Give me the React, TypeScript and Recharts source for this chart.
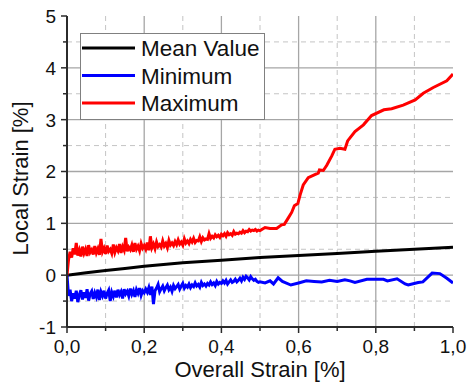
import React from 'react';
import { LineChart, Line, XAxis, YAxis, ReferenceLine, Legend } from 'recharts';

const FONT = '"Liberation Sans", Arial, Helvetica, sans-serif';

const xTicks = [0, 0.1, 0.2, 0.3, 0.4, 0.5, 0.6, 0.7, 0.8, 0.9, 1.0];
const yTicks = [-1, -0.5, 0, 0.5, 1, 1.5, 2, 2.5, 3, 3.5, 4, 4.5, 5];
const xMajorGrid = [0.2, 0.4, 0.6, 0.8];
const xMinorGrid = [0.1, 0.3, 0.5, 0.7, 0.9];
const yMajorGrid = [0, 1, 2, 3, 4];
const yMinorGrid = [-0.5, 0.5, 1.5, 2.5, 3.5, 4.5];

const seriesNames = ['Mean Value', 'Minimum', 'Maximum'];
const seriesColors = ['#000000', '#0000ff', '#ff0000'];

const xTitle = 'Overall Strain [%]';
const yTitle = 'Local Strain [%]';

// Mean value
const meanX = [0, 0.05, 0.1, 0.15, 0.2, 0.3, 0.4, 0.5, 0.6, 0.7, 0.8, 0.9, 1.0];
const meanY = [0, 0.045, 0.09, 0.13, 0.17, 0.24, 0.29, 0.34, 0.38, 0.42, 0.46, 0.5, 0.54];

// Dense sampled part (sample spacing in overall strain)
const denseStep = 0.004;

const maxDense = [
  0.30, 0.45, 0.34, 0.52, 0.40, 0.62, 0.38, 0.48, 0.36, 0.55,
  0.42, 0.50, 0.37, 0.58, 0.44, 0.49, 0.40, 0.56, 0.43, 0.51,
  0.39, 0.70, 0.45, 0.52, 0.41, 0.57, 0.46, 0.50, 0.42, 0.59,
  0.44, 0.53, 0.47, 0.60, 0.43, 0.55, 0.48, 0.72, 0.46, 0.54,
  0.49, 0.58, 0.45, 0.62, 0.50, 0.56, 0.47, 0.61, 0.52, 0.57,
  0.50, 0.63, 0.48, 0.75, 0.53, 0.60, 0.51, 0.64, 0.55, 0.59,
  0.54, 0.66, 0.56, 0.61, 0.53, 0.67, 0.58, 0.62, 0.57, 0.65,
  0.59, 0.68, 0.60, 0.64, 0.58, 0.70, 0.62, 0.66, 0.61, 0.69,
  0.64, 0.71, 0.63, 0.67, 0.66, 0.74, 0.65, 0.72, 0.68, 0.70,
  0.69, 0.80, 0.71, 0.75, 0.72, 0.78, 0.74, 0.77, 0.73, 0.79,
  0.76, 0.80, 0.75, 0.82, 0.78, 0.80, 0.77, 0.84, 0.79, 0.81,
  0.80, 0.83, 0.81, 0.86, 0.82, 0.85, 0.84, 0.88, 0.85, 0.87,
  0.86, 0.88, 0.85, 0.87, 0.86,
];
const maxTailX = [0.513, 0.526, 0.543, 0.556, 0.563, 0.573, 0.582, 0.589, 0.598, 0.604, 0.612, 0.625, 0.642, 0.651, 0.654, 0.664, 0.673, 0.686, 0.694, 0.707, 0.72, 0.727, 0.746, 0.768, 0.789, 0.821, 0.841, 0.871, 0.902, 0.923, 0.949, 0.984, 1.0];
const maxTailY = [0.92, 0.90, 0.90, 0.97, 0.98, 1.10, 1.21, 1.34, 1.38, 1.55, 1.74, 1.88, 1.94, 1.97, 2.03, 2.02, 2.12, 2.30, 2.43, 2.45, 2.43, 2.59, 2.77, 2.90, 3.08, 3.19, 3.21, 3.28, 3.38, 3.51, 3.62, 3.75, 3.88];

const minDense = [
  -0.40, -0.28, -0.50, -0.35, -0.45, -0.30, -0.52, -0.38, -0.29, -0.47,
  -0.33, -0.44, -0.27, -0.49, -0.36, -0.31, -0.46, -0.34, -0.42, -0.28,
  -0.48, -0.32, -0.40, -0.30, -0.45, -0.35, -0.29, -0.50, -0.33, -0.41,
  -0.30, -0.43, -0.28, -0.38, -0.32, -0.45, -0.27, -0.36, -0.31, -0.40,
  -0.26, -0.37, -0.30, -0.42, -0.28, -0.35, -0.25, -0.39, -0.30, -0.34,
  -0.27, -0.33, -0.24, -0.38, -0.22, -0.56, -0.30, -0.25, -0.18, -0.32,
  -0.26, -0.21, -0.30, -0.24, -0.19, -0.28, -0.23, -0.31, -0.20, -0.26,
  -0.22, -0.18, -0.27, -0.21, -0.16, -0.25, -0.20, -0.23, -0.17, -0.24,
  -0.19, -0.22, -0.15, -0.21, -0.18, -0.23, -0.14, -0.20, -0.17, -0.21,
  -0.16, -0.19, -0.13, -0.18, -0.15, -0.20, -0.12, -0.17, -0.14, -0.16,
  -0.11, -0.15, -0.10, -0.17, -0.13, -0.09, -0.14, -0.12, -0.08, -0.13,
  -0.10, -0.06, -0.11, -0.04, -0.08, -0.02, -0.05, -0.09, -0.03, -0.07,
  -0.10, -0.08, -0.12, -0.14, -0.13,
];
const minTailX = [0.513, 0.526, 0.535, 0.547, 0.558, 0.58, 0.6, 0.62, 0.64, 0.66, 0.68, 0.7, 0.72, 0.733, 0.746, 0.777, 0.82, 0.83, 0.855, 0.876, 0.884, 0.91, 0.922, 0.946, 0.966, 0.984, 1.0];
const minTailY = [-0.15, -0.11, -0.17, -0.05, -0.12, -0.19, -0.15, -0.11, -0.12, -0.13, -0.10, -0.12, -0.09, -0.11, -0.14, -0.08, -0.08, -0.11, -0.07, -0.17, -0.19, -0.14, -0.13, 0.04, 0.03, -0.06, -0.15];

const buildSeries = (dense: number[], tailX: number[], tailY: number[]) => [
  { x: 0, y: 0 },
  ...dense.map((y, i) => ({ x: (i + 1) * denseStep, y })),
  ...tailX.map((x, i) => ({ x, y: tailY[i] })),
];

const meanData = meanX.map((x, i) => ({ x, y: meanY[i] }));
const maxData = buildSeries(maxDense, maxTailX, maxTailY);
const minData = buildSeries(minDense, minTailX, minTailY);

const AXIS = '#2b2b2b';
const fmt = (v: number) => v.toFixed(1).replace('.', ',');
const isMajorX = (v: number) => Math.round(v * 10) % 2 === 0;
const isMajorY = (v: number) => Math.abs(v - Math.round(v)) < 1e-6;

const BottomTick = (props: any) => {
  const { x, y, payload } = props;
  const v = payload.value;
  const major = isMajorX(v);
  return (
    <g>
      <line x1={x} x2={x} y1={y} y2={y + (major ? 6 : 4)} stroke={AXIS} strokeWidth={1.5} />
      {major && (
        <text x={x} y={y + 26} textAnchor="middle" style={{ fontSize: 19, fontFamily: FONT }} fill="#111">
          {fmt(v)}
        </text>
      )}
    </g>
  );
};

const TopTick = (props: any) => {
  const { x, y, payload } = props;
  const major = isMajorX(payload.value);
  return <line x1={x} x2={x} y1={y} y2={y + (major ? 6 : 4)} stroke={AXIS} strokeWidth={1.5} />;
};

const LeftTick = (props: any) => {
  const { x, y, payload } = props;
  const v = payload.value;
  const major = isMajorY(v);
  return (
    <g>
      <line x1={x} x2={x - (major ? 6 : 4)} y1={y} y2={y} stroke={AXIS} strokeWidth={1.5} />
      {major && (
        <text x={x - 11} y={y} dy="0.36em" textAnchor="end" style={{ fontSize: 19, fontFamily: FONT }} fill="#111">
          {String(v)}
        </text>
      )}
    </g>
  );
};

const RightTick = (props: any) => {
  const { x, y, payload } = props;
  const major = isMajorY(payload.value);
  return <line x1={x} x2={x - (major ? 6 : 4)} y1={y} y2={y} stroke={AXIS} strokeWidth={1.5} />;
};

const XTitle = (props: any) => {
  const vb = props.viewBox;
  return (
    <text x={vb.x + vb.width / 2} y={vb.y + 50} textAnchor="middle" style={{ fontSize: 22, fontFamily: FONT }} fill="#111">
      {xTitle}
    </text>
  );
};

const YTitle = (props: any) => {
  const vb = props.viewBox;
  const cx = vb.x + 28;
  const cy = vb.y + vb.height / 2 + 7;
  return (
    <text x={cx} y={cy} textAnchor="middle" style={{ fontSize: 22, fontFamily: FONT }} fill="#111" transform={`rotate(-90, ${cx}, ${cy})`}>
      {yTitle}
    </text>
  );
};

const LegendBox = () => (
  <div style={{ width: 185, height: 87, border: '1px solid #808080', background: '#fff', boxSizing: 'border-box', fontSize: 22, fontFamily: FONT }}>
    <svg width={183} height={85} style={{ display: 'block', overflow: 'visible' }}>
      {seriesNames.map((name, i) => (
        <g key={name}>
          <line x1={1} x2={54} y1={14 + 27.5 * i} y2={14 + 27.5 * i} stroke={seriesColors[i]} strokeWidth={3} />
          <text x={60} y={14 + 27.5 * i} dy="0.36em" style={{ fontSize: 22.5, fontFamily: FONT }} fill="#111">
            {name}
          </text>
        </g>
      ))}
    </svg>
  </div>
);

export default function App() {
  return (
    <div style={{ position: 'absolute', left: 0, top: 0, width: 467, height: 391, background: '#fff' }}>
      <LineChart width={467} height={391} margin={{ top: 16, right: 14, bottom: 0, left: 0 }}>
        {xMinorGrid.map((v) => (
          <ReferenceLine key={'xm' + v} x={v} stroke="#c4c4c4" strokeWidth={1} strokeDasharray="5 4" ifOverflow="visible" />
        ))}
        {yMinorGrid.map((v) => (
          <ReferenceLine key={'ym' + v} y={v} stroke="#c4c4c4" strokeWidth={1} strokeDasharray="5 4" ifOverflow="visible" />
        ))}
        {xMajorGrid.map((v) => (
          <ReferenceLine key={'xM' + v} x={v} stroke="#a6a6a6" strokeWidth={1.3} ifOverflow="visible" />
        ))}
        {yMajorGrid.map((v) => (
          <ReferenceLine key={'yM' + v} y={v} stroke="#a6a6a6" strokeWidth={1.3} ifOverflow="visible" />
        ))}
        <XAxis
          dataKey="x"
          type="number"
          domain={[0, 1]}
          ticks={xTicks}
          interval={0}
          height={64}
          tickSize={0}
          tickMargin={0}
          tickLine={false}
          tick={<BottomTick />}
          axisLine={{ stroke: AXIS, strokeWidth: 2 }}
          allowDataOverflow
          label={<XTitle />}
        />
        <XAxis
          xAxisId="top"
          orientation="top"
          dataKey="x"
          type="number"
          domain={[0, 1]}
          ticks={xTicks}
          interval={0}
          height={0}
          tickSize={0}
          tickMargin={0}
          tickLine={false}
          tick={<TopTick />}
          axisLine={{ stroke: AXIS, strokeWidth: 2 }}
          allowDataOverflow
        />
        <YAxis
          type="number"
          domain={[-1, 5]}
          ticks={yTicks}
          interval={0}
          width={67}
          tickSize={0}
          tickMargin={0}
          tickLine={false}
          tick={<LeftTick />}
          axisLine={{ stroke: AXIS, strokeWidth: 2 }}
          allowDataOverflow
          label={<YTitle />}
        />
        <YAxis
          yAxisId="right"
          orientation="right"
          type="number"
          domain={[-1, 5]}
          ticks={yTicks}
          interval={0}
          width={0}
          tickSize={0}
          tickMargin={0}
          tickLine={false}
          tick={<RightTick />}
          axisLine={{ stroke: AXIS, strokeWidth: 2 }}
          allowDataOverflow
        />
        <Line data={meanData} dataKey="y" name={seriesNames[0]} stroke={seriesColors[0]} strokeWidth={3} dot={false} isAnimationActive={false} />
        <Line data={minData} dataKey="y" name={seriesNames[1]} stroke={seriesColors[1]} strokeWidth={3} dot={false} isAnimationActive={false} />
        <Line data={maxData} dataKey="y" name={seriesNames[2]} stroke={seriesColors[2]} strokeWidth={3} dot={false} isAnimationActive={false} />
        <Legend
          layout="vertical"
          align="center"
          verticalAlign="middle"
          content={<LegendBox />}
          wrapperStyle={{ left: 80, top: 33, width: 185, height: 87 }}
        />
      </LineChart>
    </div>
  );
}
